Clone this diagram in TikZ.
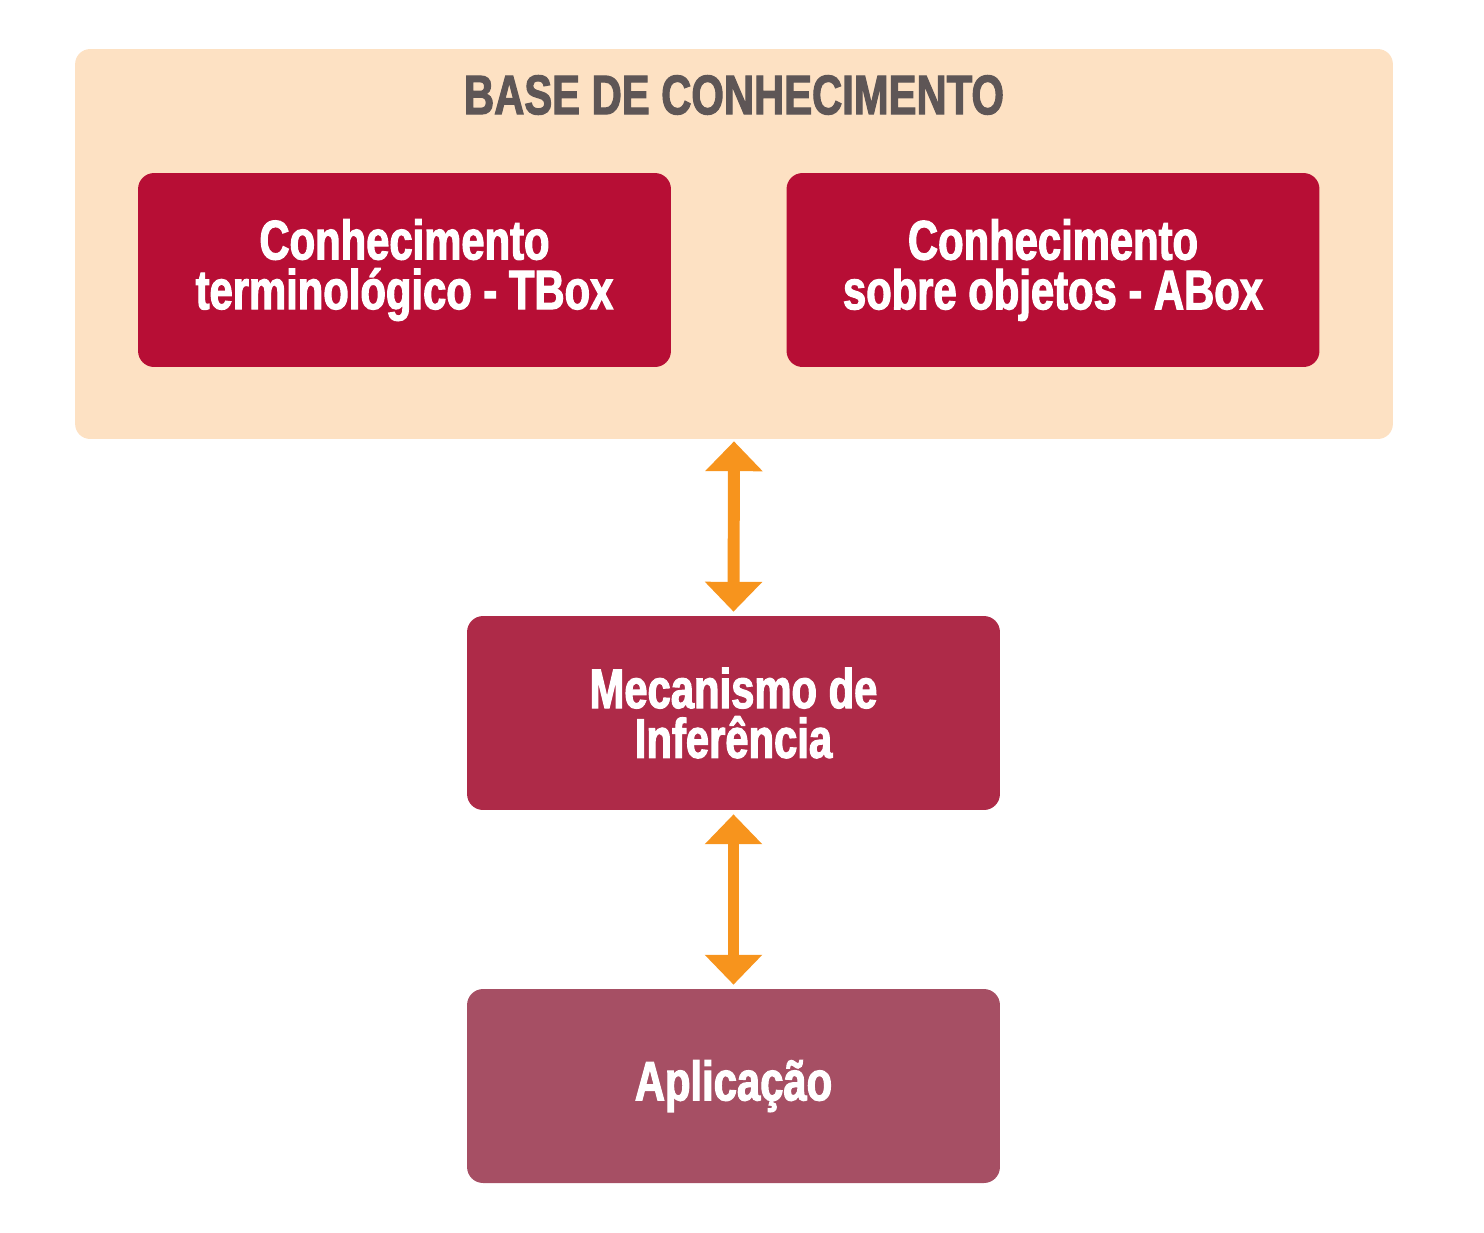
\documentclass[tikz,border=0pt]{standalone}
\usepackage{fontspec}
\setmainfont{Liberation Sans}[FakeStretch=0.75]
\newfontfamily\heavy{Liberation Sans Bold}[FakeStretch=0.75, FakeBold=2]
\usetikzlibrary{arrows.meta}
\definecolor{peach}{HTML}{FDE1C3}
\definecolor{redA}{HTML}{B70E35}
\definecolor{redB}{HTML}{AE2A48}
\definecolor{redC}{HTML}{A64F64}
\definecolor{orangeA}{HTML}{F7941D}
\definecolor{titlegray}{HTML}{5E5656}
\tikzset{
  box/.style={rounded corners=0.32cm, inner sep=0pt, minimum width=10.66cm, minimum height=3.88cm,
    text=white, align=center, font=\heavy\fontsize{31.7}{28.3}\selectfont},
  dblarrow/.style={draw=orangeA, line width=6.8pt,
    {Triangle[width=31.7pt,length=17pt]}-{Triangle[width=31.7pt,length=17pt]}}
}
\begin{document}
\begin{tikzpicture}[x=0.02cm,y=-0.02cm]
\useasboundingbox (0,0) rectangle (1484,1232);
\node[fill=peach, rounded corners=0.3cm, minimum width=26.36cm, minimum height=7.8cm, inner sep=0pt] (base) at (734,244) {};
\node[text=titlegray, font=\heavy\fontsize{31.7}{28.3}\selectfont, inner sep=0pt] (title) at (734,95) {BASE DE CONHECIMENTO};
\node[box, fill=redA] (tbox) at (404.5,270) {Conhecimento\\terminológico - TBox};
\node[box, fill=redA] (abox) at (1053,270) {Conhecimento\\sobre objetos - ABox};
\node[box, fill=redB] (mec) at (733.5,713) {Mecanismo de\\Inferência};
\node[box, fill=redC] (app) at (733.5,1086) {Aplicação};
\draw[dblarrow] ([yshift=-0.04cm]base.south) -- ([yshift=0.08cm]mec.north);
\draw[dblarrow] ([yshift=-0.08cm]mec.south) -- ([yshift=0.08cm]app.north);
\end{tikzpicture}
\end{document}
